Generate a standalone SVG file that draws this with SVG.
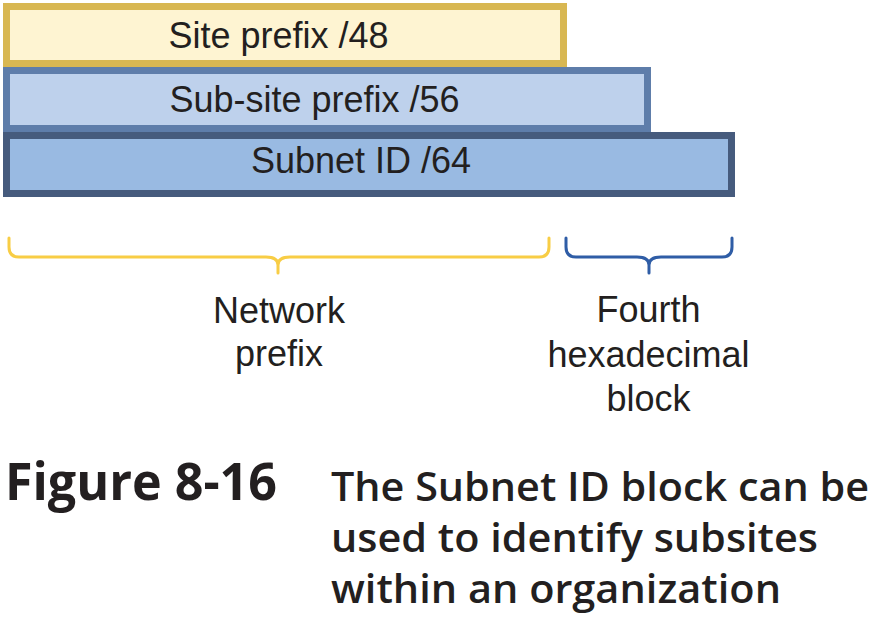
<svg xmlns="http://www.w3.org/2000/svg" width="874" height="624" viewBox="0 0 874 624">
<style>
.box{stroke-width:7}
.lbl{font-family:"Liberation Sans",Arial,sans-serif;font-size:36px;fill:#231F20;text-anchor:middle}
.brace{fill:none;stroke-width:3;stroke-linecap:round;stroke-linejoin:round}
.cap{font-family:"Open Sans","Noto Sans",sans-serif;fill:#231F20}
</style>
<rect width="874" height="624" fill="#FFFFFF"/>
<g id="site">
<rect class="box" x="6.5" y="6.5" width="557" height="57" fill="#FEF4D2" stroke="#D8B752"/>
<text class="lbl" x="278.5" y="48">Site prefix /48</text>
</g>
<g id="subsite">
<rect class="box" x="6.5" y="70.5" width="641" height="58" fill="#BED1EC" stroke="#5E7DAA"/>
<text class="lbl" x="314.5" y="112">Sub-site prefix /56</text>
</g>
<g id="subnet">
<rect class="box" x="6.5" y="135.5" width="725" height="58" fill="#99BAE2" stroke="#465B7D"/>
<text class="lbl" x="361" y="173">Subnet ID /64</text>
</g>
<g id="connectors">
<path class="brace" stroke="#F8CD45" d="M9,238 V247 Q9,257 19,257 H266 Q278,257 278,265 V273 M278,265 Q278,257 290,257 H539 Q549,257 549,247 V238"/>
<path class="brace" stroke="#2F5DA6" d="M566,238 V247 Q566,257 576,257 H637 Q649,257 649,265 V273 M649,265 Q649,257 661,257 H722 Q732,257 732,247 V238"/>
</g>
<g id="network-label">
<text class="lbl" x="279" y="323">Network</text>
<text class="lbl" x="279" y="366">prefix</text>
</g>
<g id="fourth-label">
<text class="lbl" x="648.5" y="322">Fourth</text>
<text class="lbl" x="648.5" y="367">hexadecimal</text>
<text class="lbl" x="648.5" y="411">block</text>
</g>
<g id="caption">
<text class="cap" x="5" y="500" font-size="52" font-weight="700" textLength="272" lengthAdjust="spacingAndGlyphs">Figure 8-16</text>
<text class="cap" x="331" y="501" font-size="40" font-weight="600" textLength="538" lengthAdjust="spacingAndGlyphs">The Subnet ID block can be</text>
<text class="cap" x="331" y="552" font-size="40" font-weight="600" textLength="487" lengthAdjust="spacingAndGlyphs">used to identify subsites</text>
<text class="cap" x="331" y="603" font-size="40" font-weight="600" textLength="450" lengthAdjust="spacingAndGlyphs">within an organization</text>
</g>
</svg>
